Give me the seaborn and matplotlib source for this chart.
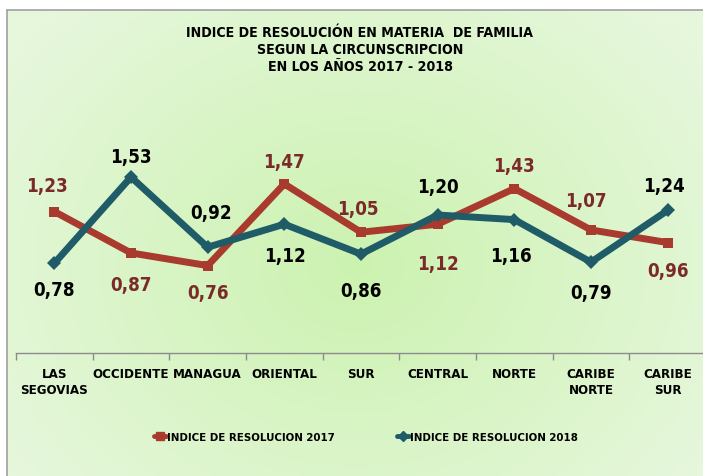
import numpy as np
import pandas as pd
import matplotlib
matplotlib.use("Agg")
import matplotlib.pyplot as plt
import seaborn as sns
from matplotlib import font_manager
from matplotlib.lines import Line2D

categories = ["LAS\nSEGOVIAS", "OCCIDENTE", "MANAGUA", "ORIENTAL", "SUR",
              "CENTRAL", "NORTE", "CARIBE\nNORTE", "CARIBE\nSUR"]
v2017 = [1.23, 0.87, 0.76, 1.47, 1.05, 1.12, 1.43, 1.07, 0.96]
v2018 = [0.78, 1.53, 0.92, 1.12, 0.86, 1.20, 1.16, 0.79, 1.24]
labels2017 = ["1,23", "0,87", "0,76", "1,47", "1,05", "1,12", "1,43", "1,07", "0,96"]
labels2018 = ["0,78", "1,53", "0,92", "1,12", "0,86", "1,20", "1,16", "0,79", "1,24"]
series_names = ["INDICE DE RESOLUCION 2017", "INDICE DE RESOLUCION 2018"]
title = "INDICE DE RESOLUCIÓN EN MATERIA  DE FAMILIA\nSEGUN LA CIRCUNSCRIPCION\nEN LOS AÑOS 2017 - 2018"

# label offsets in pixels (dx, dy) - layout only
off2017 = [(-7, 26), (0, -32), (0, -27), (0, 22), (-3, 24), (0, -39), (0, 23), (-5, 29), (0, -28)]
off2018 = [(0, -26), (0, 21), (3, 35), (1, -31), (0, -36), (0, 28), (-3, -36), (0, -30), (-4, 25)]

sns.set_theme(style="white")

# look for a narrow / condensed family
narrow = None
for f in font_manager.fontManager.ttflist:
    nm = f.name.lower(); fn = f.fname.lower()
    if ("narrow" in nm or "condensed" in nm or "narrow" in fn or "condensed" in fn) and "mono" not in nm and "serif" not in nm.replace("sans", ""):
        narrow = f
        if f.weight in ("bold", 700):
            break
if narrow is not None:
    FAM = [narrow.name, "DejaVu Sans"]
    STRETCH = narrow.stretch
    k = 1.0
else:
    FAM = ["Liberation Sans", "DejaVu Sans"]
    STRETCH = "normal"
    k = 0.86
plt.rcParams["font.family"] = FAM
plt.rcParams["font.stretch"] = STRETCH
plt.rcParams["text.color"] = "black"

W, H = 703, 477
fig = plt.figure(figsize=(W / 100, H / 100), dpi=100)
fig.patch.set_facecolor("white")

# background panel with radial gradient
bx0, by0 = 7 / W, 0
bg = fig.add_axes([bx0, by0, 1 - bx0, (H - 11) / H])
ny, nx = 200, 300
yy, xx = np.mgrid[0:ny, 0:nx]
cx, cy = nx * 0.5, ny * 0.45
r = np.sqrt(((xx - cx) / (nx * 0.6)) ** 2 + ((yy - cy) / (ny * 0.75)) ** 2)
r = np.clip(r, 0, 1)
c_center = np.array([204, 242, 176]) / 255
c_edge = np.array([230, 247, 220]) / 255
img = c_center[None, None, :] * (1 - r[..., None]) + c_edge[None, None, :] * r[..., None]
bg.imshow(img, aspect="auto", extent=[0, 1, 0, 1], origin="lower")
bg.set_xlim(0, 1); bg.set_ylim(0, 1)
bg.axis("off")
fig.add_artist(Line2D([bx0, bx0], [0, (H - 11) / H], color="#a0a0a0", lw=1.2))
fig.add_artist(Line2D([bx0, 1], [(H - 11) / H, (H - 11) / H], color="#a0a0a0", lw=1.2))

# main axes
ax_left = 16 / W
ax_bottom = (H - 354) / H
ax_w = 690 / W
ax_h = (354 - 147) / H
ax = fig.add_axes([ax_left, ax_bottom, ax_w, ax_h])
ax.set_facecolor("none")

idx = np.arange(len(categories))
df = pd.DataFrame({"idx": np.concatenate([idx, idx]),
                   "val": v2017 + v2018,
                   "serie": [series_names[0]] * len(idx) + [series_names[1]] * len(idx)})
c17 = "#a83a2e"
c18 = "#1f5c68"
sns.lineplot(data=df, x="idx", y="val", hue="serie", style="serie",
             palette={series_names[0]: c17, series_names[1]: c18},
             markers={series_names[0]: "s", series_names[1]: "D"},
             dashes=False, lw=5.0, markersize=7, markeredgewidth=0,
             legend=False, ax=ax)

ax.set_xlim(-0.5, len(categories) - 0.5)
ax.set_ylim(0, 1.8)
for s in ["top", "right", "left"]:
    ax.spines[s].set_visible(False)
ax.spines["bottom"].set_color("#8c8c8c")
ax.spines["bottom"].set_linewidth(1.0)
ax.set_yticks([])
ax.set_xlabel(""); ax.set_ylabel("")
ax.set_xticks(np.arange(-0.5, len(categories), 1.0))
ax.set_xticklabels([])
ax.tick_params(axis="x", which="major", length=5, width=1, color="#8c8c8c", direction="out", bottom=True)
ax.set_xticks(idx, minor=True)
ax.set_xticklabels(categories, minor=True, fontsize=9.5 * k, fontweight="bold", color="black",
                   linespacing=1.3)
ax.tick_params(axis="x", which="minor", length=0, pad=10)
for t in ax.get_xticklabels(minor=True):
    t.set_verticalalignment("top")

fs_lab = 13.5 * (1 if k == 1 else 0.95)
for i in idx:
    ax.annotate(labels2017[i], (i, v2017[i]), xytext=(off2017[i][0] * 0.72, off2017[i][1] * 0.72),
                textcoords="offset points", ha="center", va="center",
                fontsize=fs_lab, fontweight="bold", color="#7b2a2a")
    ax.annotate(labels2018[i], (i, v2018[i]), xytext=(off2018[i][0] * 0.72, off2018[i][1] * 0.72),
                textcoords="offset points", ha="center", va="center",
                fontsize=fs_lab, fontweight="bold", color="black")

fig.text(360 / W, 1 - 50 / H, title, ha="center", va="center", fontsize=10.2 * k,
         fontweight="bold", linespacing=1.25, color="black")

handles = [Line2D([], [], color=c17, lw=3.5, marker="s", markersize=6),
           Line2D([], [], color=c18, lw=3.5, marker="D", markersize=5)]
leg = fig.legend(handles, series_names, loc="center", bbox_to_anchor=(366 / W, 1 - 438 / H),
                 ncol=2, frameon=False, handlelength=1.0, handletextpad=0.1,
                 columnspacing=5.5, prop={"family": FAM, "weight": "bold", "size": 8.2 * k,
                                          "stretch": STRETCH})
for t in leg.get_texts():
    t.set_color("black")

fig.savefig("out.png", dpi=100)
